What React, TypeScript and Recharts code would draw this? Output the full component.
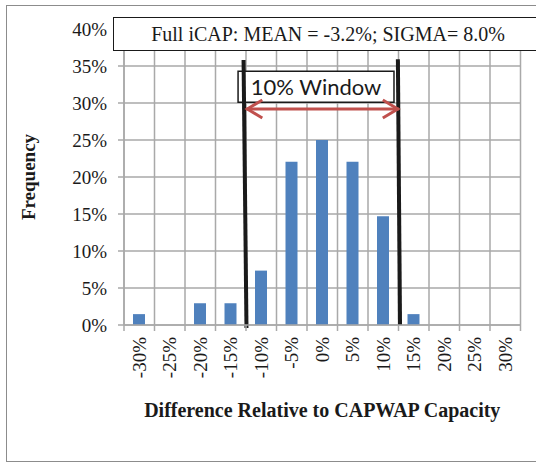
import React from "react";
import {
  BarChart,
  Bar,
  XAxis,
  YAxis,
  CartesianGrid,
  ReferenceLine,
  ReferenceArea,
} from "recharts";

const bins = [-30, -25, -20, -15, -10, -5, 0, 5, 10, 15, 20, 25, 30];
const frequency = [1.47, 0, 2.94, 2.94, 7.35, 22.06, 25, 22.06, 14.71, 1.47, 0, 0, 0];
const yTicks = [0, 5, 10, 15, 20, 25, 30, 35, 40];
const xDomain = [-32.5, 32.5];

// window annotation, in % units
const windowLeft = [{ x: -12.9, y: 35.8 }, { x: -12.42, y: -0.4 }];
const windowRight = [{ x: 12.4, y: 35.9 }, { x: 12.75, y: 0 }];
const windowArrow = [{ x: -12.45, y: 29.2 }, { x: 12.55, y: 29.2 }];
const windowBox = { x1: -13.8, x2: 11.76, y1: 30.1, y2: 34.3 };

const data = bins.map((b, i) => ({ bin: b, freq: frequency[i] }));

const W = 536;
const H = 465;
const margin = { top: 29, right: 15.5, left: 0, bottom: 40 };
const Y_AXIS_W = 124;
const PLOT_W = W - margin.left - margin.right - Y_AXIS_W;
const GRID = "#a9a9a9";
const SERIF = "'Liberation Serif', 'Times New Roman', serif";

const XTick = (props: any) => {
  const { x, y, payload, index } = props;
  const bw = PLOT_W / bins.length;
  const ty = y + 12;
  return (
    <g>
      <line x1={x - bw / 2} y1={y} x2={x - bw / 2} y2={y + 6} stroke={GRID} strokeWidth={1.5} />
      {index === bins.length - 1 && (
        <line x1={x + bw / 2} y1={y} x2={x + bw / 2} y2={y + 6} stroke={GRID} strokeWidth={1.5} />
      )}
      <text
        x={x}
        y={ty}
        transform={`rotate(-90 ${x} ${ty})`}
        textAnchor="end"
        dominantBaseline="central"
        fontFamily={SERIF}
        fontSize={19}
        fill="#1a1a1a"
      >
        {`${payload.value}%`}
      </text>
    </g>
  );
};

const DoubleArrow = (props: any) => {
  const { x1, y1, x2 } = props;
  const c = "#c0504d";
  return (
    <g fill="none" stroke={c} strokeWidth={3}>
      <line x1={x1} y1={y1} x2={x2} y2={y1} />
      <path d={`M${x1 + 16},${y1 - 9} L${x1 + 1},${y1} L${x1 + 16},${y1 + 9}`} />
      <path d={`M${x2 - 16},${y1 - 9} L${x2 - 1},${y1} L${x2 - 16},${y1 + 9}`} />
    </g>
  );
};

export default function App() {
  return (
    <div style={{ position: "absolute", left: 0, top: 0, width: W, height: H, background: "#fff", overflow: "hidden" }}>
      <div
        style={{
          position: "absolute",
          left: 6,
          top: 5,
          width: 560,
          height: 457,
          border: "1.5px solid #8c8c8c",
          boxSizing: "border-box",
        }}
      />
      <BarChart width={W} height={H} data={data} margin={margin}>
        <CartesianGrid
          stroke={GRID}
          strokeWidth={1.5}
          horizontal={true}
          verticalCoordinatesGenerator={({ offset }: any) =>
            bins.map((_, i) => offset.left + (i * offset.width) / bins.length).concat([offset.left + offset.width])
          }
        />
        <XAxis
          dataKey="bin"
          type="number"
          domain={xDomain}
          ticks={bins}
          interval={0}
          allowDataOverflow
          height={100}
          tickLine={false}
          tickSize={0}
          tickMargin={0}
          axisLine={{ stroke: GRID, strokeWidth: 1.5 }}
          tick={<XTick />}
          label={{
            value: "Difference Relative to CAPWAP Capacity",
            position: "insideBottom",
            offset: 8,
            fontFamily: SERIF,
            fontSize: 20,
            fontWeight: "bold",
            fill: "#1a1a1a",
          }}
        />
        <YAxis
          width={Y_AXIS_W}
          domain={[0, 40]}
          ticks={yTicks}
          interval={0}
          tickFormatter={(v) => `${v}%`}
          tickSize={6}
          tickMargin={11}
          tickLine={{ stroke: GRID, strokeWidth: 1.5 }}
          axisLine={{ stroke: GRID, strokeWidth: 1.5 }}
          tick={{ fontFamily: SERIF, fontSize: 19, fill: "#1a1a1a" }}
          label={{
            value: "Frequency",
            angle: -90,
            position: "insideLeft",
            offset: 28,
            fontFamily: SERIF,
            fontSize: 19,
            fontWeight: "bold",
            fill: "#1a1a1a",
            style: { textAnchor: "middle" },
          }}
        />
        <Bar dataKey="freq" fill="#4f81bd" barSize={12} isAnimationActive={false} />
        <ReferenceLine segment={windowLeft} stroke="#1a1a1a" strokeWidth={4} ifOverflow="visible" />
        <ReferenceLine segment={windowRight} stroke="#1a1a1a" strokeWidth={4} ifOverflow="visible" />
        <ReferenceLine segment={windowArrow} ifOverflow="visible" shape={<DoubleArrow />} />
        <ReferenceArea
          x1={windowBox.x1}
          x2={windowBox.x2}
          y1={windowBox.y1}
          y2={windowBox.y2}
          fill="#fff"
          fillOpacity={1}
          stroke="#1a1a1a"
          strokeWidth={1.5}
          ifOverflow="visible"
          label={{ value: "10% Window", position: "center", fontFamily: "Lato, sans-serif", fontSize: 22, fill: "#1a1a1a" }}
        />
      </BarChart>
      <div
        style={{
          position: "absolute",
          left: 113,
          top: 17,
          width: 430,
          height: 34,
          border: "1.5px solid #1a1a1a",
          boxSizing: "border-box",
          background: "#fff",
          fontFamily: SERIF,
          fontSize: 20,
          color: "#1a1a1a",
          display: "flex",
          alignItems: "center",
          justifyContent: "center",
          whiteSpace: "nowrap",
        }}
      >
        Full iCAP: MEAN = -3.2%; SIGMA= 8.0%
      </div>
    </div>
  );
}
